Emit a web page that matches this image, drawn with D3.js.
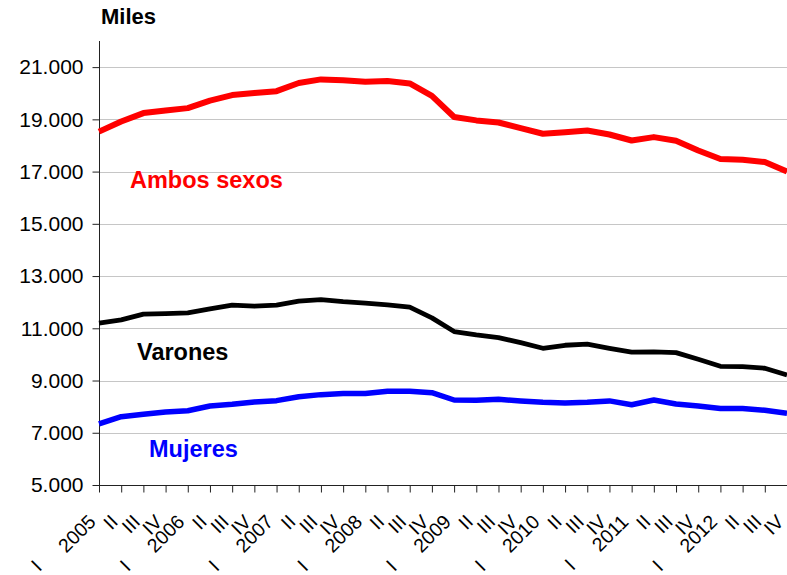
<!DOCTYPE html>
<html>
  <head>
    <title>Miles - Ambos sexos, Varones, Mujeres</title>
    <script src="https://d3js.org/d3.v7.min.js"></script>
  </head>
  <style>
    body {
      margin: 0;
      background-color: white;
    }
    svg text {
      font-family: "Liberation Sans", Arial, sans-serif;
    }
  </style>
  <body>
    <div id="chart"></div>
    <script>

    // quarters 2005 I .. 2012 IV
    var years = ["2005", "2006", "2007", "2008", "2009", "2010", "2011", "2012"];
    var quarters = ["I", "II", "III", "IV"];

    var ambos = [18530, 18920, 19240, 19340, 19430, 19720, 19930, 20010,
                 20080, 20390, 20530, 20500, 20440, 20465, 20375, 19900,
                 19090, 18960, 18880, 18665, 18450, 18510, 18575, 18420,
                 18190, 18320, 18180, 17810, 17480, 17450, 17365, 17000];
    var varones = [11195, 11320, 11540, 11565, 11590, 11740, 11885, 11845,
                   11885, 12040, 12100, 12020, 11960, 11895, 11810, 11400,
                   10875, 10745, 10645, 10450, 10235, 10350, 10390, 10235,
                   10085, 10095, 10070, 9815, 9545, 9530, 9470, 9215];
    var mujeres = [7337, 7617, 7707, 7795, 7845, 8025, 8090, 8180,
                   8230, 8380, 8460, 8500, 8500, 8590, 8590, 8535,
                   8255, 8245, 8280, 8220, 8170, 8140, 8170, 8220,
                   8075, 8255, 8100, 8025, 7925, 7925, 7860, 7745];

    var yTicks = [5000, 7000, 9000, 11000, 13000, 15000, 17000, 19000, 21000];

    var width = 787;
    var height = 575;

    // category keys
    var cats = [];
    years.forEach(y => quarters.forEach(q => cats.push(y + "-" + q)));

    var x = d3.scalePoint().domain(cats).range([99, 787]).padding(0);
    var y = d3.scaleLinear().domain([5000, 22000]).range([485, 41]);

    var fmt = d => d3.format(",")(d).replace(/,/g, ".");

    var svg = d3.select("#chart").append("svg")
        .attr("width", width)
        .attr("height", height);

    // gridlines
    svg.append("g")
      .selectAll("line")
      .data(yTicks.filter(d => d > 5000))
      .enter().append("line")
        .attr("x1", 99)
        .attr("x2", width)
        .attr("y1", d => Math.round(y(d)) + 0.5)
        .attr("y2", d => Math.round(y(d)) + 0.5)
        .style("stroke", "#c6c6c6")
        .style("stroke-width", 1);

    // y axis
    var yAxis = svg.append("g")
        .attr("transform", "translate(99.5,0)")
        .call(d3.axisLeft(y).tickValues(yTicks).tickSize(7).tickPadding(9).tickFormat(fmt));
    yAxis.select(".domain").attr("d", "M0," + y(22000) + "V" + (y(5000) + 0.5)).style("stroke", "#222");
    yAxis.selectAll(".tick line").style("stroke", "#222");
    yAxis.selectAll(".tick text")
        .style("font-size", "21px")
        .style("fill", "#000");

    // x axis
    var xAxis = svg.append("g")
        .attr("transform", "translate(0," + (Math.round(y(5000)) + 0.5) + ")")
        .call(d3.axisBottom(x).tickSize(7).tickFormat(""));
    xAxis.select(".domain").attr("d", "M99,0H" + width).style("stroke", "#222");
    xAxis.selectAll(".tick line").style("stroke", "#222");

    // rotated category labels
    var labels = svg.append("g")
      .selectAll("text")
      .data(cats)
      .enter().append("text")
        .attr("transform", d => "translate(" + (x(d) - 2) + ",523) rotate(-45)")
        .attr("text-anchor", "end")
        .style("font-size", "19.5px")
        .style("fill", "#000");

    labels.each(function(d) {
      var parts = d.split("-");
      var t = d3.select(this);
      if (parts[1] == "I") {
        t.append("tspan").attr("dy", -6).text("I");
        t.append("tspan").attr("dx", 27).attr("dy", 6).text(parts[0]);
      } else {
        t.text(parts[1]);
      }
    });

    // lines
    var line = d3.line()
        .x((d, i) => x(cats[i]))
        .y(d => y(d));

    var series = [
      {values: ambos, color: "#ff0000", w: 6},
      {values: varones, color: "#000000", w: 4.8},
      {values: mujeres, color: "#0000ff", w: 5.5}
    ];

    svg.append("g")
      .selectAll("path")
      .data(series)
      .enter().append("path")
        .attr("d", d => line(d.values))
        .style("fill", "none")
        .style("stroke", d => d.color)
        .style("stroke-width", d => d.w)
        .style("stroke-linejoin", "round");

    // titles
    svg.append("text")
        .attr("x", 101)
        .attr("y", 24)
        .style("font-size", "22px")
        .style("font-weight", "bold")
        .text("Miles");

    var names = [
      {text: "Ambos sexos", color: "#ff0000", x: 130, y: 188},
      {text: "Varones", color: "#000000", x: 137, y: 360},
      {text: "Mujeres", color: "#0000ff", x: 149, y: 457}
    ];

    svg.append("g")
      .selectAll("text")
      .data(names)
      .enter().append("text")
        .attr("x", d => d.x)
        .attr("y", d => d.y)
        .style("font-size", "23.5px")
        .style("font-weight", "bold")
        .style("fill", d => d.color)
        .text(d => d.text);

    </script>
  </body>
</html>
